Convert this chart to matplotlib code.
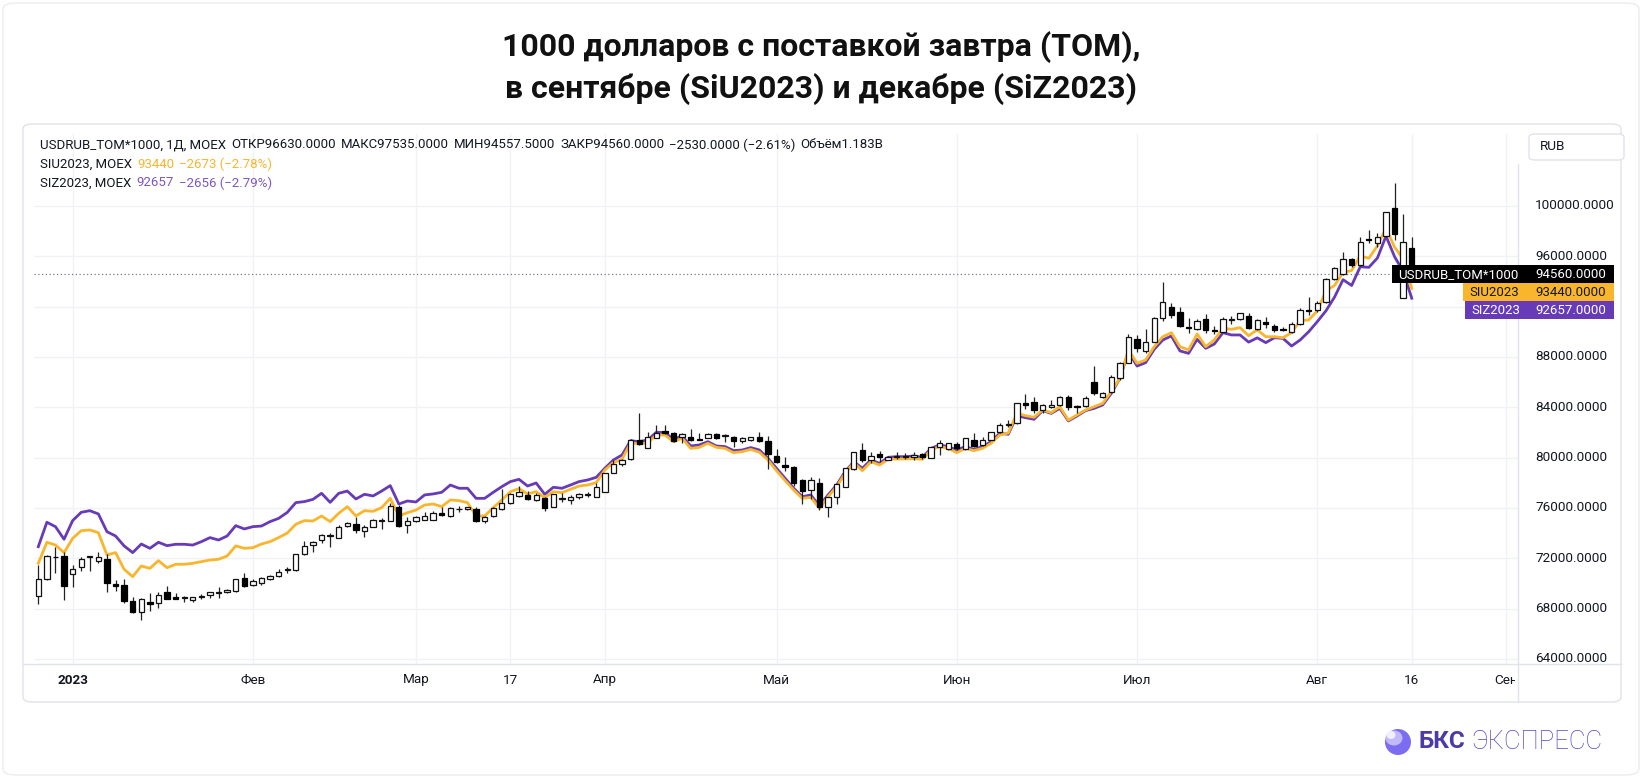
import numpy as np
import matplotlib
matplotlib.use('Agg')
import matplotlib.pyplot as plt
from matplotlib.patches import FancyBboxPatch, Rectangle, Ellipse
from matplotlib.transforms import Bbox, blended_transform_factory

# USDRUB_TOM*1000, дневные свечи (27.12.2022 - 16.08.2023)
opens = [69000, 70330, 72130, 72180, 70720, 71280, 72130, 71810, 71920, 69930,
         69850, 68610, 67710, 68530, 68420, 69290, 68900, 68820, 68690, 68900,
         69080, 69220, 69320, 69400, 70460, 69880, 70010, 70350, 70590, 71070,
         71070, 72340, 73050, 73450, 73770, 73580, 74560, 74720, 74190, 74510,
         74990, 74990, 76050, 74640, 74990, 75040, 75040, 75570, 75360, 75890,
         75940, 75890, 74960, 75360, 75890, 76360, 76950, 77000, 76630, 76760,
         76050, 76710, 76630, 76890, 77050, 76890, 77260, 78750, 79460, 79860,
         81400, 80730, 81530, 82110, 81930, 81660, 81660, 81450, 81530, 81850,
         81740, 81610, 81340, 81400, 81660, 81320, 80120, 79380, 79220, 78220,
         77420, 78010, 76050, 76890, 77690, 79070, 80600, 79810, 80280, 79810,
         80070, 80070, 80020, 80260, 79940, 80870, 80680, 81050, 80650, 81400,
         81000, 81400, 82010, 82590, 82720, 84310, 84440, 83780, 84040, 84180,
         84840, 84100, 84100, 85980, 84790, 85240, 86290, 87490, 89420, 88490,
         89210, 91060, 91930, 91540, 90400, 90210, 91010, 90130, 90000, 90930,
         90980, 91250, 90190, 90740, 90450, 90210, 90000, 90580, 91720, 91720,
         92330, 94190, 94580, 95770, 95300, 97340, 97020, 97600, 99850, 92650,
         96630]
highs = [71470, 72230, 72920, 72530, 71470, 72080, 72180, 72470, 72340, 70270,
         70330, 68950, 68820, 69220, 69320, 69800, 69270, 69000, 68900, 69140,
         69290, 69690, 69530, 70330, 70860, 70330, 70490, 70670, 71120, 71280,
         72340, 73370, 73370, 73900, 73980, 74640, 74910, 75300, 74640, 75090,
         75170, 76420, 76230, 75250, 75360, 75700, 75780, 76050, 76050, 76150,
         76100, 76100, 75380, 76050, 77530, 77160, 77740, 77340, 77160, 76890,
         77110, 77160, 77030, 77210, 77290, 77950, 78750, 79810, 79860, 81450,
         83510, 82060, 82590, 82590, 82060, 81930, 82240, 81930, 81930, 81930,
         81850, 81710, 81660, 81660, 82010, 81710, 80650, 80020, 79330, 78270,
         78430, 78350, 76890, 77950, 79150, 80470, 81130, 80470, 80550, 80120,
         80470, 80340, 80420, 80340, 80870, 81400, 81180, 81260, 81530, 81930,
         81660, 82010, 82770, 82980, 84310, 85020, 84840, 84260, 84570, 84890,
         84970, 84180, 84890, 87270, 85240, 86560, 87620, 89820, 89740, 90190,
         91190, 93920, 92250, 91990, 91060, 90980, 91380, 90450, 91190, 91250,
         91510, 91460, 90980, 91140, 90610, 90400, 90740, 91850, 92780, 92460,
         94240, 95110, 96360, 95830, 97550, 98080, 97870, 99530, 101840, 99320,
         97535]
lows = [68340, 70270, 70860, 68690, 69690, 71020, 71020, 71600, 69350, 69400,
        68420, 67630, 67100, 67840, 68080, 68740, 68740, 68550, 68530, 68740,
        68820, 68820, 69270, 69320, 69740, 69800, 69850, 70270, 70540, 70800,
        71020, 72260, 72520, 73240, 72920, 73580, 74510, 73980, 73660, 74510,
        74330, 74990, 74510, 74030, 74850, 75040, 75040, 75360, 75300, 75700,
        75830, 74910, 74780, 75300, 75830, 76310, 76890, 76630, 76580, 75780,
        76050, 76500, 76310, 76680, 76890, 76890, 77260, 78750, 79330, 79810,
        81000, 80730, 81530, 81870, 81260, 81130, 81340, 81400, 81530, 81450,
        81260, 80870, 81180, 81340, 81260, 79070, 79600, 78960, 77740, 76310,
        76680, 75840, 75310, 76310, 77690, 79010, 79670, 79540, 79670, 79810,
        79860, 79860, 79810, 79860, 79940, 80200, 80600, 80600, 80600, 80870,
        80950, 81400, 81930, 82460, 82670, 83830, 83510, 83510, 83910, 84120,
        83780, 83510, 84040, 84970, 84710, 85160, 86160, 87490, 88410, 88280,
        89210, 90880, 91060, 90350, 89920, 90130, 89870, 89790, 89950, 90610,
        90930, 90190, 90130, 90270, 90000, 90080, 89920, 90530, 91330, 91590,
        92250, 94110, 94500, 95110, 95220, 97070, 96700, 97550, 97280, 92650,
        94557.5]
closes = [70350, 72180, 72080, 69820, 71120, 71970, 72180, 72100, 70010, 69820,
          68630, 67710, 68770, 68390, 69080, 68740, 68770, 68900, 68900, 68980,
          69290, 69290, 69480, 70330, 69800, 70200, 70410, 70620, 70940, 71120,
          72340, 73000, 73320, 73820, 73820, 74510, 74830, 74250, 74460, 75040,
          75040, 76150, 74560, 74990, 75250, 75360, 75620, 75440, 76020, 75940,
          76050, 74990, 75300, 75970, 76360, 77080, 77240, 76680, 77030, 75970,
          77080, 76760, 76890, 77110, 77110, 77640, 78750, 79490, 79810, 81400,
          81080, 81610, 81930, 81930, 81340, 81850, 81400, 81400, 81870, 81530,
          81790, 81340, 81580, 81610, 81340, 80280, 79670, 79250, 78010, 77370,
          78220, 76050, 76890, 77870, 79150, 80420, 79810, 80150, 80020, 80070,
          80120, 80120, 80200, 80070, 80810, 81180, 81130, 80730, 81530, 80920,
          81400, 82010, 82590, 82670, 84310, 84180, 83780, 84180, 84180, 84840,
          83990, 84040, 84710, 85100, 85100, 86430, 87540, 89550, 88730, 89210,
          91060, 92330, 91300, 90450, 90320, 90880, 90130, 90080, 91010, 91010,
          91460, 90270, 90930, 90580, 90130, 90160, 90610, 91720, 91640, 92310,
          94190, 95030, 95750, 95300, 97100, 97260, 97550, 99480, 97730, 97100,
          94560]

# SIU2023 (сентябрь), цена закрытия
siu = [71600, 73270, 73050, 72450, 73580, 74190, 74250, 74030, 72260, 72450,
       71120, 70540, 71390, 71200, 71810, 71250, 71520, 71520, 71600, 71730,
       71860, 71920, 72180, 72980, 72790, 72840, 73130, 73320, 73640, 74000,
       74700, 74990, 74960, 75360, 74910, 75570, 76100, 75360, 75780, 75730,
       76020, 76760, 75360, 75620, 75830, 76230, 76310, 76100, 76630, 76580,
       76420, 75360, 75360, 76020, 76630, 77290, 77530, 77110, 77290, 76820,
       77290, 77210, 77480, 77740, 77820, 78010, 79010, 79600, 79860, 81180,
       81080, 81180, 81790, 81790, 81260, 81530, 80730, 80810, 81130, 80810,
       80730, 80390, 80470, 80650, 80420, 79810, 78960, 78170, 77420, 76760,
       76840, 75970, 76890, 77690, 78750, 79600, 78960, 79670, 79410, 79860,
       79890, 79890, 79910, 79860, 80600, 80870, 80730, 80390, 80730, 80550,
       80730, 81130, 81790, 81950, 83510, 83330, 83200, 83780, 83570, 84040,
       82980, 83380, 83780, 84040, 84310, 85240, 86290, 88550, 87490, 87750,
       88810, 89600, 89920, 88810, 88550, 89820, 88810, 89340, 90270, 90190,
       90320, 89680, 90150, 89600, 89600, 89520, 89920, 90880, 90930, 91650,
       93250, 93670, 94700, 94860, 96020, 95830, 96820, 98240, 96710, 95800,
       93440]
# SIZ2023 (декабрь), цена закрытия
siz = [72920, 74860, 74510, 73510, 74990, 75650, 75780, 75520, 74110, 73770,
       72980, 72450, 73130, 72790, 73270, 73000, 73110, 73110, 73050, 73320,
       73640, 73450, 73770, 74590, 74330, 74510, 74560, 74910, 75170, 75640,
       76420, 76500, 76680, 77160, 76440, 77160, 77340, 76710, 77080, 76950,
       77340, 77770, 76310, 76550, 76470, 77030, 77110, 77240, 77820, 77560,
       77560, 76760, 76760, 77240, 77690, 78090, 78270, 77740, 77980, 77080,
       77640, 77560, 77820, 78090, 78220, 78430, 79150, 79810, 80200, 81340,
       81260, 81400, 82010, 81980, 81450, 81710, 80920, 81000, 81260, 80920,
       80870, 80550, 80600, 80790, 80600, 79940, 79150, 78350, 77560, 76890,
       77030, 76150, 77030, 77820, 78880, 79670, 79150, 79810, 79540, 80020,
       80070, 80070, 80120, 80020, 80730, 81000, 80870, 80600, 80870, 80650,
       80870, 81260, 81930, 81850, 83330, 83170, 83040, 83730, 83510, 83910,
       82910, 83300, 83730, 83910, 84180, 85100, 86290, 88410, 87270, 87540,
       88600, 89340, 89660, 88470, 88280, 89390, 88680, 89020, 89920, 89740,
       89740, 89170, 89510, 89130, 89520, 89470, 88860, 89340, 90000, 90800,
       91650, 92740, 94130, 93670, 95160, 95110, 95850, 97590, 95960, 94770,
       92657]

tick_idx = [4, 25, 44, 55, 66, 86, 107, 128, 149, 160, 171]
tick_lab = ['2023', 'Фев', 'Мар', '17', 'Апр', 'Май', 'Июн', 'Июл', 'Авг', '16', 'Сен']
y_ticks = [64000, 68000, 72000, 76000, 80000, 84000, 88000, 92000, 96000, 100000]

last_close = 94560
siu_last = 93440
siz_last = 92657

ORANGE = '#f9b62c'
PURPLE = '#673ab7'
TXT = '#131722'
GRID = '#f0f2f6'
BORDER = '#e0e3eb'
FONT = 'Roboto'

W, H = 1642, 778
fig = plt.figure(figsize=(W / 100, H / 100), dpi=100)
fig.patch.set_facecolor('white')

def fx(px):
    return px / W

def fy(py):
    return 1 - py / H

# рамки (под графиком)
fig.patches.append(FancyBboxPatch((fx(3), fy(775)), fx(1636), 772 / H,
                                  boxstyle='round,pad=0,rounding_size=0.008',
                                  transform=fig.transFigure, fc='none', ec='#ececf0', lw=1,
                                  zorder=-10))
fig.patches.append(FancyBboxPatch((fx(23), fy(702)), fx(1598), 578 / H,
                                  boxstyle='round,pad=0,rounding_size=0.006',
                                  transform=fig.transFigure, fc='white', ec=BORDER, lw=1,
                                  zorder=-9))

# заголовок
fig.text(0.5, fy(47), '1000 долларов с поставкой завтра (TOM),', ha='center', va='center',
         fontsize=23, fontweight='bold', family=FONT, color='#111111')
fig.text(0.5, fy(89), 'в сентябре (SiU2023) и декабре (SiZ2023)', ha='center', va='center',
         fontsize=23, fontweight='bold', family=FONT, color='#111111')

X_RIGHT = 1518
ax = fig.add_axes([fx(34), fy(664), fx(X_RIGHT - 34), (664 - 134) / H])
ax.set_facecolor('none')
x = np.arange(len(opens))
o = np.array(opens, dtype=float)
c = np.array(closes, dtype=float)
up = c >= o
bottom = np.minimum(o, c)
height = np.abs(c - o)

for v in y_ticks:
    ax.axhline(v, color=GRID, lw=1, zorder=0)
for t in tick_idx:
    ax.axvline(t, color=GRID, lw=1, zorder=0)

ax.axhline(last_close, xmax=(1392 - 34) / (X_RIGHT - 34), color='#787b86', lw=0.9,
           ls=(0, (1, 2)), zorder=1)

ax.plot(x, siz, color=PURPLE, lw=2.0, zorder=2, solid_joinstyle='round')
ax.plot(x, siu, color=ORANGE, lw=2.0, zorder=2, solid_joinstyle='round')

ax.vlines(x, lows, highs, color='#222222', lw=0.9, zorder=3)
ax.bar(x[up], height[up], bottom=bottom[up], width=0.62, facecolor='white',
       edgecolor='#111111', lw=0.9, zorder=4)
ax.bar(x[~up], height[~up], bottom=bottom[~up], width=0.62, facecolor='black',
       edgecolor='black', lw=0.9, zorder=4)

ax.set_xlim(-0.5, (X_RIGHT - 38.3) / 8.584)
ax.set_ylim(63600, 105704)
ax.set_xticks([])
ax.set_yticks([])
for s in ax.spines.values():
    s.set_visible(False)

# метки последних цен (их положение нужно для ценовой шкалы)
yc_px = H - ax.transData.transform((0, last_close))[1]
box_top = yc_px - 9
box_bot = yc_px + 9 + 18 * 2

# ценовая шкала (метки, закрытые плашками цен, не рисуются)
for v in y_ticks:
    yv_px = H - ax.transData.transform((0, v))[1]
    if box_top - 8 < yv_px < box_bot + 8:
        continue
    fig.text(fx(1535), fy(yv_px), f'{v:.4f}', ha='left', va='center', fontsize=9.7,
             family=FONT, color=TXT)

# временная шкала
trans = blended_transform_factory(ax.transData, fig.transFigure)
clip = Bbox([[0, 0], [X_RIGHT - 3, H]])
for t, lab in zip(tick_idx, tick_lab):
    fig.text(t, fy(680), lab, transform=trans, ha='center', va='center', fontsize=9.7,
             family=FONT, color=TXT, fontweight='bold' if lab == '2023' else 'normal',
             clip_on=True, clip_box=clip)

# линии осей
fig.add_artist(plt.Line2D([fx(23), fx(1621)], [fy(664), fy(664)], color=BORDER, lw=1,
                          transform=fig.transFigure))
fig.add_artist(plt.Line2D([fx(X_RIGHT), fx(X_RIGHT)], [fy(164), fy(702)], color=BORDER, lw=1,
                          transform=fig.transFigure))

# RUB
fig.patches.append(FancyBboxPatch((fx(1529), fy(160)), fx(95), 26 / H,
                                  boxstyle='round,pad=0,rounding_size=0.004',
                                  transform=fig.transFigure, fc='white', ec=BORDER, lw=1))
fig.text(fx(1540), fy(147), 'RUB', ha='left', va='center', fontsize=9.7, family=FONT, color=TXT)

boxes = [(1392, 'USDRUB_TOM*1000', last_close, 'black', 'white'),
         (1463, 'SIU2023', siu_last, ORANGE, TXT),
         (1465, 'SIZ2023', siz_last, PURPLE, 'white')]
for k, (x0, name, val, fc, tc) in enumerate(boxes):
    cy = yc_px + 18 * k
    fig.patches.append(Rectangle((fx(x0), fy(cy + 9)), fx(1614 - x0), 18 / H,
                                 transform=fig.transFigure, fc=fc, ec='none', zorder=10))
    fig.text(fx(x0 + 6), fy(cy), name, ha='left', va='center', fontsize=9.5, family=FONT,
             color=tc, zorder=11)
    fig.text(fx(1535), fy(cy), f'{val:.4f}', ha='left', va='center', fontsize=9.5,
             family=FONT, color=tc, zorder=11)

# легенда сверху слева
fig.canvas.draw()
r = fig.canvas.get_renderer()

def line_parts(y, parts, gap=5):
    xp = fx(40)
    for s, col in parts:
        t = fig.text(xp, fy(y), s, ha='left', va='center', fontsize=9.5, family=FONT, color=col)
        bb = t.get_window_extent(renderer=r)
        xp = bb.x1 / W + fx(gap)

line_parts(145, [('USDRUB_TOM*1000, 1Д, MOEX', TXT), ('ОТКР96630.0000', TXT),
                 ('МАКС97535.0000', TXT), ('МИН94557.5000', TXT), ('ЗАКР94560.0000', TXT),
                 ('−2530.0000 (−2.61%)', TXT), ('Объём1.183B', TXT)])
line_parts(164, [('SIU2023, MOEX', TXT), ('93440', ORANGE), ('−2673 (−2.78%)', ORANGE)])
line_parts(183, [('SIZ2023, MOEX', TXT), ('92657', '#7e57c2'), ('−2656 (−2.79%)', '#7e57c2')])

# логотип
fig.patches.append(Ellipse((fx(1398), fy(742)), 26 / W, 26 / H, transform=fig.transFigure,
                           fc='#7c6cf0', ec='none'))
fig.patches.append(Ellipse((fx(1394), fy(738)), 17 / W, 15 / H, transform=fig.transFigure,
                           fc='#c9c2fb', ec='none', alpha=0.9))
fig.patches.append(Ellipse((fx(1391), fy(735)), 9 / W, 8 / H, transform=fig.transFigure,
                           fc='#f1eefe', ec='none'))
t1 = fig.text(fx(1418), fy(742), 'БКС', ha='left', va='center', fontsize=17.5,
              fontweight='bold', family=FONT, color='#4b3aa8')
bb = t1.get_window_extent(renderer=r)
fig.text(bb.x1 / W + fx(7), fy(742), 'ЭКСПРЕСС', ha='left', va='center', fontsize=18.5,
         fontweight='light', family=FONT, color='#5a47c0')

fig.savefig('out.png', dpi=100, facecolor='white')
